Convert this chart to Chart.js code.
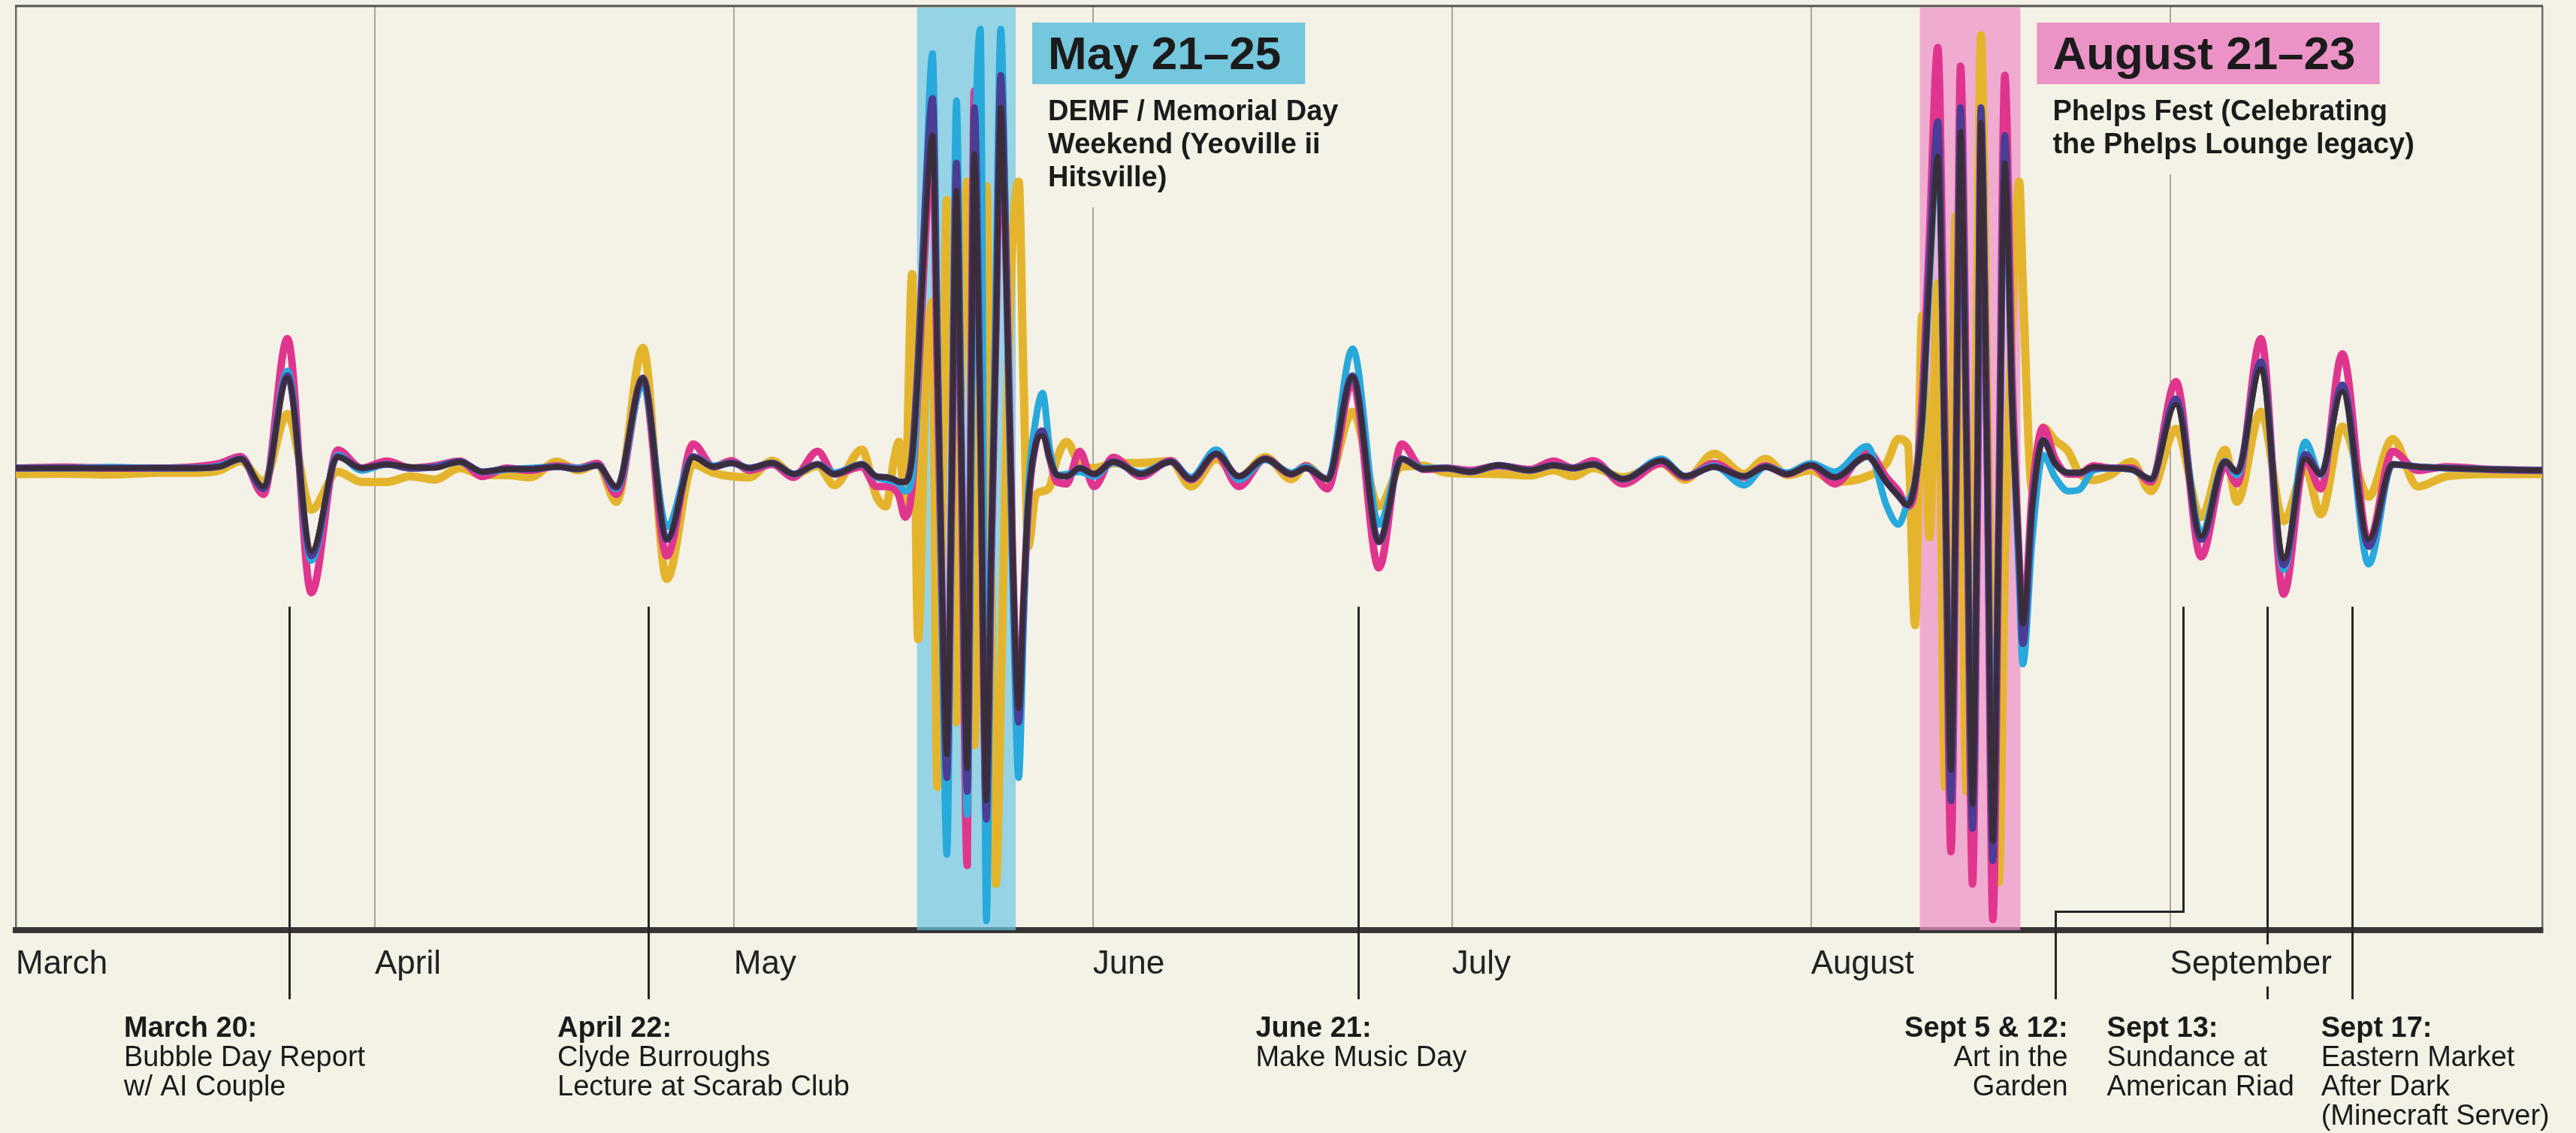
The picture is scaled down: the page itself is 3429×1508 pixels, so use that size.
<!DOCTYPE html>
<html>
<head>
<meta charset="utf-8">
<script src="https://cdn.jsdelivr.net/npm/chart.js@4.4.1/dist/chart.umd.min.js"></script>
<style>
html,body{margin:0;padding:0;background:#f4f1e6;}
#wrap{width:3429px;height:1508px;position:relative;overflow:hidden;}
canvas{display:block;}
</style>
</head>
<body>
<div id="wrap"><canvas id="c" width="3429" height="1508"></canvas></div>
<script>
// ---------- DATA ----------
// x positions: month-units, 30 units per month, 0 = start of March
const monthLabels = ['March','April','May','June','July','August','September'];
const monthStarts = [0, 30, 60, 90, 120, 150, 180];
const xEnd = 211.1;

const xPos = [
  0,4,8,12,15,17,18.8,20.7,22.7,24.7,26.9,28.9,
  31,33,35,37.1,39,41,43,45.2,47,48.6,50.2,52.4,54.4,56.6,58.3,
  59.8,61.3,63.2,65,67,68.4,70.7,
  71.9,72.7,73.4,73.8,74.3,74.9,75.4,76,76.6,77,77.4,77.8,78.2,78.6,79,79.5,79.8,80.1,80.6,81.1,81.5,81.9,82.3,82.8,83.3,83.8,84.2,84.6,85.2,85.8,86.4,87,87.8,88.9,
  90.1,91.7,94,96.5,98.2,100.3,102.2,104.4,106.6,107.8,109.6,111.7,113.9,115.8,117.6,119.5,121.5,123.9,
  126.5,128.5,130.1,131.8,134.3,137.5,139.5,141.9,144.4,146.2,148,150,152,154.7,156.3,157.3,158.1,
  158.7,159.3,159.9,160.6,161.2,161.7,162.1,162.5,163,163.5,163.9,164.2,164.7,165.2,165.7,166.2,166.8,167.4,167.7,168.5,169.4,170.4,171.5,172.4,173.6,175,
  176.8,178.4,180.5,182.6,184.6,185.6,187.6,189.5,191.3,192.6,194.4,196.6,198.6,200.7,203.1,206.7,211.1
];

const goldLine = [
  -1.3,-1.2,-1.4,-1.0,-1.0,-0.5,1.5,-3,11.7,-9,-0.8,-3,
  -3,-1.8,-2.5,0,-1.5,-1.5,-2,1.4,-0.5,0.8,-7.3,26,-24,0.8,-1,
  -1.8,-2,1.6,-1.5,0.5,-3.7,4,
  -6,-8.3,2,5.7,-8,42,-37,18,36,-69,-12,58,10,-55,20,62,25,-60,20,61,-20,-90,-50,10,50,62,20,-17,-6,-5,-4,2,5.7,0.8,
  0,1,1.1,1.5,-4,2,-2,2.4,-2.4,0.5,-2.8,12.2,-8.3,0.3,0.5,-1,-1.2,-1.3,
  -1.6,-0.5,-1.8,0,-2,1,-2.5,3.1,-1.3,2,-1.5,-0.5,-3,-1.8,1,6.3,5,
  -34,33,-15,40,-69,-10,54.6,20,-70,-35,40,93.7,20,-50,-89.6,-20,30,62,40,-5,8.8,6,3.6,-1,-2.6,-1.5,
  1.4,-5,8.5,-10.6,4,-7.3,12.2,-11.5,0,-10,9,-6.2,6.3,-4,-1.8,-1.3,-1.3
];

const magentaLine = [
  0,0.2,0,0,0.3,1,2.5,-5.7,28,-27,3.9,0,
  1.5,0,0.5,1.5,-1.8,0,-0.5,0.5,0,1.0,-5.7,19,-19,5.2,0.3,
  1.6,-0.5,0.8,-2,3.6,-1.3,0.3,
  -4,-4,-4.5,-6,-10.6,-4,18,50,72,20,-30,-70,-5,62,5,-86,10,81.6,15,-75,-20,30,80,40,-20,-55,-30,-8,5,8,2,-3,-3.4,3.6,
  -4,2.3,-1.8,1.6,-2.5,3,-4,2,-1.3,0.5,-4.5,18.7,-21.6,5.2,-0.3,0,-0.5,0.5,
  -0.3,1.5,0,1.6,-3.4,1,-2,1,-2,0.5,-1.3,0.6,-3.4,3.6,-2,-5,-8.3,
  -4,15,50,91,5,-83,-10,87,10,-90,-10,60,10,-97.7,-10,85,20,-20,-35,-5,8.8,2,-1.3,-1.3,0.5,0,
  0,-3,18.7,-19.2,0.5,-3.4,28,-27.3,2,-4.5,24.7,-16,3.6,-0.5,0.3,-0.3,-0.5
];

const cyanLine = [
  0,0,0.2,0,0,0.5,2,-4.5,21,-20,2.8,-0.5,
  0.8,0,0.3,1.4,-0.8,-0.3,0,0.3,0,0.6,-4.5,18.2,-12.7,2.5,0.5,
  1.1,0,1.1,-1.3,0.8,-1,0.8,
  -2,-2.5,-3,-3.5,-5,-2,20,58,89.7,30,-35,-83.6,-5,79.5,10,-75,-10,60,95,-98,-20,40,95,40,-25,-67,-35,-5,10,16.2,4,-1.5,-1.3,-0.8,
  -1.8,1.2,-1,1.4,-2,4,-2.5,1.8,-1,0.3,-2.4,25.8,-12.2,2,0,0,-0.8,0.6,
  -0.5,0.6,0,0.8,-2.4,2,-1.8,0.5,-3.7,0.3,-1,1,-0.8,4.7,-8,-12.2,-7.3,
  -3,10,40,70,0,-70,-5,75,5,-75,-5,75,5,-80,-10,68,15,-25,-42.4,-15,2.8,-2,-5,-4.7,-0.5,0,
  -0.3,-2.4,15,-14,1.5,-1.5,23,-22,5.7,-1.5,18,-20.8,0.8,0.3,0,-0.3,-0.5
];

const purpleLine = [
  0,0,0,0,0,0.3,2,-4.5,20,-19,2.5,0,
  0.8,0,0.2,1.4,-0.8,-0.2,-0.2,0.3,-0.2,0.6,-4.2,19.5,-15.5,2.5,0.3,
  1.1,0,1.1,-1.3,0.8,-1.3,0.8,
  -1.8,-2,-2.5,-3,-3,3,24,58,80,28,-28,-67,-5,66,5,-70,5,78,10,-76,-20,30,85,40,-20,-55,-30,-8,5,8,2,-1.5,-1.8,0,
  -1.3,1.4,-1.3,1.4,-2.4,3.1,-1.8,2,-1.3,0,-2.4,20,-16,2,-0.2,0,-0.8,0.6,
  -0.5,0.6,0,0.8,-2.4,1.6,-1.8,0.3,-1.8,0.3,-1.3,0.6,-2,2.5,-3,-6,-8,
  -3,12,45,75,0,-72,-5,78,5,-78,-5,78,5,-85,-10,72,15,-20,-38,-8,6,1,-1,-1,0,0,
  -0.3,-2.4,15,-15.5,1.4,-0.8,23,-21,3,-1.3,18,-17,0.8,0.3,0,-0.3,-0.5
];

const darkLine = [
  0,0,0,0.1,0,0.3,2,-4,19.5,-18,2.4,0,
  0.8,0.3,0,1.4,-0.8,-0.2,-0.2,0.3,-0.2,0.6,-4,19.3,-15.4,2.3,0.3,
  1.1,0,1.1,-1.3,0.8,-1.3,0.8,
  -1.8,-2,-2.5,-3,-3,2,20,52,72,22,-25,-62,-5,60,5,-65,5,68,8,-72,-18,28,78,36,-18,-52,-28,-7,5,7,2,-1.5,-1.8,0,
  -1.3,1.4,-1.3,1.4,-2.4,3.1,-1.8,2,-1.3,0,-2.4,19.8,-15.9,2,-0.2,0,-0.8,0.6,
  -0.5,0.6,0,0.8,-2.4,1.6,-1.8,0.3,-1.8,0.3,-1.3,0.6,-2,2.5,-3,-6,-8,
  -3,10,40,67.5,0,-65.4,-5,72.8,5,-72.8,-5,74.8,5,-80.8,-10,66,15,-20,-33.7,-8,6,1,-1,-1,0.3,0,
  -0.3,-2.4,13.8,-14.8,1.4,-0.8,21.5,-19.7,2,-1.3,16.6,-15.4,0.8,0.3,0,-0.3,-0.5
];

// highlighted festival windows
const highlightRanges = [[75.3, 83.55], [159.1, 167.5]];
const highlightTitles = ['May 21\u201325', 'August 21\u201323'];
const highlightNotes = [
  ['DEMF / Memorial Day', 'Weekend (Yeoville ii', 'Hitsville)'],
  ['Phelps Fest (Celebrating', 'the Phelps Lounge legacy)']
];

// single events
const eventDates = ['March 20:', 'April 22:', 'June 21:', 'Sept 5 & 12:', 'Sept 13:', 'Sept 17:'];
const eventTitles = [
  ['Bubble Day Report', 'w/ AI Couple'],
  ['Clyde Burroughs', 'Lecture at Scarab Club'],
  ['Make Music Day'],
  ['Art in the', 'Garden'],
  ['Sundance at', 'American Riad'],
  ['Eastern Market', 'After Dark', '(Minecraft Server)']
];
const eventX = [22.85, 52.86, 112.2, 181.1, 188.1, 195.2];
const eventElbowX = [null, null, null, 170.4, null, null];

// ---------- STYLE ----------
const PAPER = '#f4f1e6';
const INK = '#1b1b1b';
const FONT = '"Liberation Sans", Arial, Helvetica, sans-serif';
const bandFill = ['rgba(110,198,226,0.70)', 'rgba(236,142,198,0.70)'];
const boxFill = ['#74c7dd', '#eb92c6'];
const labelDx = [-220, -121, -137, 17, -213, -41];
const labelAlign = ['left', 'left', 'left', 'right', 'left', 'left'];
const LINE_TOP_VALUE = -30;   // where event leader lines begin
const ELBOW_VALUE = -96;

const seriesStyle = [
  {name:'Dark',    data: darkLine,    color:'#3a2d3a', width:7},
  {name:'Purple',  data: purpleLine,  color:'#4a3d93', width:9},
  {name:'Cyan',    data: cyanLine,    color:'#27a9dc', width:9},
  {name:'Magenta', data: magentaLine, color:'#e0358e', width:10},
  {name:'Gold',    data: goldLine,    color:'#e4b52c', width:11}
];

// ---------- PLUGINS ----------
const paperPlugin = {
  id: 'paper',
  beforeDraw(chart) {
    const {ctx, width, height} = chart;
    ctx.save();
    ctx.fillStyle = PAPER;
    ctx.fillRect(0, 0, width, height);
    ctx.restore();
  }
};

const bandsPlugin = {
  id: 'bands',
  beforeDatasetsDraw(chart) {
    const {ctx, chartArea: a, scales: {x}} = chart;
    ctx.save();
    highlightRanges.forEach((r, i) => {
      const x0 = x.getPixelForValue(r[0]);
      const x1 = x.getPixelForValue(r[1]);
      ctx.fillStyle = bandFill[i];
      ctx.fillRect(x0, a.top + 2, x1 - x0, a.bottom - a.top - 2);
    });
    ctx.restore();
  }
};

const annotPlugin = {
  id: 'annot',
  afterDatasetsDraw(chart) {
    const {ctx, chartArea: a, scales: {x, y}} = chart;
    ctx.save();
    // top frame
    ctx.strokeStyle = '#555';
    ctx.lineWidth = 3;
    ctx.beginPath();
    ctx.moveTo(a.left - 1, a.top);
    ctx.lineTo(a.right + 1, a.top);
    ctx.stroke();

    // highlight annotation blocks
    ctx.textAlign = 'left';
    ctx.textBaseline = 'alphabetic';
    highlightRanges.forEach((r, i) => {
      const bx = x.getPixelForValue(r[1]) + 22;
      const by = a.top + 22;
      ctx.font = `bold 62px ${FONT}`;
      const tw = ctx.measureText(highlightTitles[i]).width;
      ctx.font = `bold 38px ${FONT}`;
      const nw = Math.max(...highlightNotes[i].map(s => ctx.measureText(s).width));
      const boxW = tw + 53;
      ctx.fillStyle = PAPER;
      ctx.fillRect(bx, by, Math.max(boxW, nw + 21) + 14, 82 + 44 * highlightNotes[i].length + 32);
      ctx.fillStyle = boxFill[i];
      ctx.fillRect(bx, by, boxW, 82);
      ctx.fillStyle = INK;
      ctx.font = `bold 62px ${FONT}`;
      ctx.fillText(highlightTitles[i], bx + 21, a.top + 84);
      ctx.font = `bold 38px ${FONT}`;
      highlightNotes[i].forEach((s, j) => ctx.fillText(s, bx + 21, a.top + 152 + j * 44));
    });

    // month label extents (for breaking leader lines behind them)
    ctx.font = `44px ${FONT}`;
    const monthSpans = monthStarts.map((m, i) => {
      const p = x.getPixelForValue(m);
      return [p - 4, p + ctx.measureText(monthLabels[i]).width + 6];
    });

    // event leader lines
    ctx.strokeStyle = '#262626';
    ctx.lineWidth = 3;
    ctx.lineCap = 'butt';
    const yTop = y.getPixelForValue(LINE_TOP_VALUE);
    const yBot = a.bottom + 92;
    eventX.forEach((ex, i) => {
      const px = Math.round(x.getPixelForValue(ex)) + 0.5;
      ctx.beginPath();
      if (eventElbowX[i] !== null) {
        const ey = Math.round(y.getPixelForValue(ELBOW_VALUE)) + 0.5;
        const qx = Math.round(x.getPixelForValue(eventElbowX[i])) + 0.5;
        ctx.moveTo(px, yTop);
        ctx.lineTo(px, ey);
        ctx.lineTo(qx, ey);
        ctx.lineTo(qx, yBot);
      } else {
        const hit = monthSpans.some(s => px >= s[0] && px <= s[1]);
        if (hit) {
          ctx.moveTo(px, yTop); ctx.lineTo(px, a.bottom + 19);
          ctx.moveTo(px, a.bottom + 75); ctx.lineTo(px, yBot);
        } else {
          ctx.moveTo(px, yTop); ctx.lineTo(px, yBot);
        }
      }
      ctx.stroke();
    });

    // event labels
    ctx.fillStyle = INK;
    eventDates.forEach((d, i) => {
      const anchorVal = eventElbowX[i] !== null ? eventElbowX[i] : eventX[i];
      const lx = x.getPixelForValue(anchorVal) + labelDx[i];
      const base = a.bottom + 142;
      ctx.textAlign = labelAlign[i];
      ctx.font = `bold 38px ${FONT}`;
      ctx.fillText(d, lx, base);
      ctx.font = `38px ${FONT}`;
      eventTitles[i].forEach((s, j) => ctx.fillText(s, lx, base + (j + 1) * 39));
    });
    ctx.restore();
  }
};

// ---------- CHART ----------
const datasets = seriesStyle.map(s => ({
  label: s.name,
  data: xPos.map((xv, i) => ({x: xv, y: s.data[i]})),
  borderColor: s.color,
  borderWidth: s.width,
  pointRadius: 0,
  pointHoverRadius: 0,
  fill: false,
  cubicInterpolationMode: 'monotone',
  borderCapStyle: 'round',
  borderJoinStyle: 'round'
}));

new Chart(document.getElementById('c'), {
  type: 'line',
  data: {datasets},
  options: {
    responsive: false,
    animation: false,
    devicePixelRatio: 1,
    layout: {padding: {left: 21, right: 45, top: 8, bottom: 0}},
    plugins: {legend: {display: false}, tooltip: {enabled: false}},
    scales: {
      x: {
        type: 'linear',
        min: 0,
        max: xEnd,
        afterBuildTicks: (s) => { s.ticks = monthStarts.concat([xEnd]).map(v => ({value: v})); },
        afterFit: (s) => { s.height = 270; },
        ticks: {
          autoSkip: false,
          maxRotation: 0,
          minRotation: 0,
          align: 'start',
          padding: 0,
          color: '#222',
          font: {family: FONT, size: 44},
          callback: (v) => { const i = monthStarts.indexOf(v); return i >= 0 ? monthLabels[i] : ''; }
        },
        grid: {
          color: (c) => (c.tick && (c.tick.value === 0 || c.tick.value === xEnd)) ? '#6c6c6c' : '#aaa69c',
          lineWidth: (c) => (c.tick && (c.tick.value === 0 || c.tick.value === xEnd)) ? 2.5 : 2,
          drawTicks: true,
          tickLength: 19,
          tickColor: 'rgba(0,0,0,0)'
        },
        border: {display: true, color: '#363636', width: 8}
      },
      y: {
        type: 'linear',
        min: -100,
        max: 100,
        display: false
      }
    }
  },
  plugins: [paperPlugin, bandsPlugin, annotPlugin]
});
</script>
</body>
</html>
